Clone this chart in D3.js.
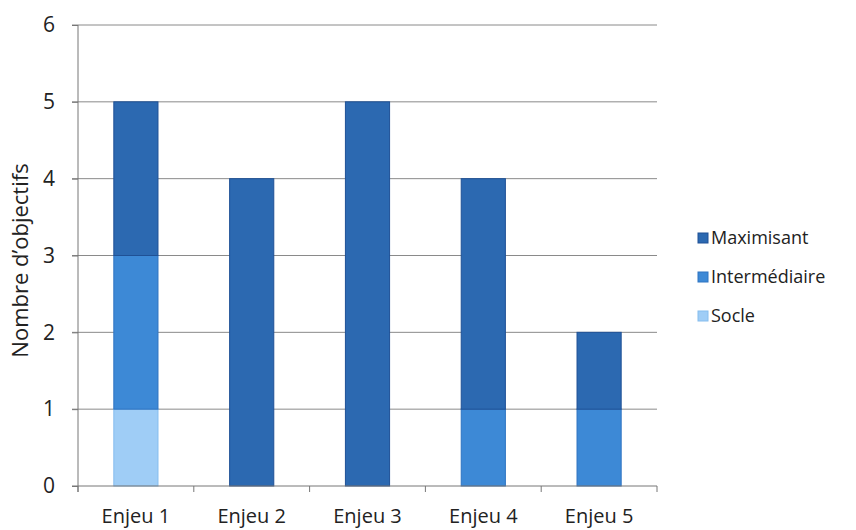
<!DOCTYPE html>
<html>
<head>
<meta charset="utf-8">
<script src="https://cdn.jsdelivr.net/npm/d3@7"></script>
<style>
  body { margin: 0; background: #fff; }
  svg text { font-family: "Open Sans", Lato, sans-serif; fill: #222; }
</style>
</head>
<body>
<div id="chart"></div>
<script>
(function () {
  "use strict";

  /***** Données *****/
  var categories = ["Enjeu 1", "Enjeu 2", "Enjeu 3", "Enjeu 4", "Enjeu 5"];
  var socle = [1, 0, 0, 0, 0];
  var intermediaire = [2, 0, 0, 1, 1];
  var maximisant = [2, 4, 5, 3, 1];
  var yTicks = [0, 1, 2, 3, 4, 5, 6];
  var seriesNames = ["Socle", "Intermédiaire", "Maximisant"];
  var legendOrder = ["Maximisant", "Intermédiaire", "Socle"];

  var colors = {
    "Socle": "#9fcdf6",
    "Intermédiaire": "#3d89d6",
    "Maximisant": "#2c69b1"
  };
  var strokes = {
    "Socle": "#86bdee",
    "Intermédiaire": "#2f74c2",
    "Maximisant": "#1f5196"
  };

  var table = categories.map(function (c, i) {
    return {cat: c, "Socle": socle[i], "Intermédiaire": intermediaire[i], "Maximisant": maximisant[i]};
  });

  /***** Configuration *****/
  var width = 856, height = 530;
  var margin = {top: 25, right: 199, bottom: 44, left: 78};
  var w = width - margin.left - margin.right,
      h = height - margin.top - margin.bottom;

  var svg = d3.select("#chart").append("svg")
    .attr("width", width)
    .attr("height", height);

  var g = svg.append("g")
    .attr("transform", "translate(" + margin.left + "," + margin.top + ")");

  var x = d3.scaleBand()
    .domain(categories)
    .range([0, w])
    .paddingInner(0.61)
    .paddingOuter(0.305);

  var y = d3.scaleLinear().domain([0, 6]).range([h, 0]);

  // grille
  g.selectAll("line.grid")
    .data(yTicks.slice(1))
    .enter().append("line")
    .attr("class", "grid")
    .attr("x1", -6).attr("x2", w)
    .attr("y1", function (d) { return y(d); })
    .attr("y2", function (d) { return y(d); })
    .attr("stroke", "#8a8a8a")
    .attr("stroke-width", 1);

  // barres empilées
  var stack = d3.stack().keys(seriesNames);
  var layers = stack(table);

  g.selectAll("g.layer")
    .data(layers)
    .enter().append("g")
    .attr("class", "layer")
    .each(function (layer) {
      d3.select(this).selectAll("rect")
        .data(layer.filter(function (d) { return d[1] > d[0]; }))
        .enter().append("rect")
        .attr("x", function (d) { return x(d.data.cat) + 0.5; })
        .attr("width", x.bandwidth() - 1)
        .attr("y", function (d) { return y(d[1]); })
        .attr("height", function (d) { return y(d[0]) - y(d[1]); })
        .attr("fill", colors[layer.key])
        .attr("stroke", strokes[layer.key])
        .attr("stroke-width", 1);
    });

  // axe Y
  var yAxis = d3.axisLeft(y).tickValues(yTicks).tickFormat(d3.format("d")).tickSize(6).tickPadding(17);
  var gy = g.append("g").call(yAxis);
  gy.select(".domain").attr("stroke", "#777").attr("d", "M0,0V" + (h + 6));
  gy.selectAll(".tick line").attr("stroke", "#777");
  gy.selectAll(".tick text").attr("font-size", 21).style("fill", "#222");

  // axe X
  var xAxis = d3.axisBottom(x).tickSize(0);
  var gx = g.append("g").attr("transform", "translate(0," + h + ")").call(xAxis);
  gx.select(".domain").attr("stroke", "#777").attr("d", "M-6,0H" + w);
  gx.selectAll(".tick text").attr("font-size", 20).attr("y", 37).attr("dy", 0).style("fill", "#222");

  var step = x.step();
  g.selectAll("line.xtick")
    .data(d3.range(categories.length + 1))
    .enter().append("line")
    .attr("class", "xtick")
    .attr("x1", function (i) { return x(categories[0]) - (step - x.bandwidth()) / 2 + i * step; })
    .attr("x2", function (i) { return x(categories[0]) - (step - x.bandwidth()) / 2 + i * step; })
    .attr("y1", h).attr("y2", h + 6)
    .attr("stroke", "#777");

  // titre axe Y
  svg.append("text")
    .attr("transform", "translate(20," + (margin.top + h / 2 + 5) + ") rotate(-90)")
    .attr("text-anchor", "middle")
    .attr("dy", "0.35em")
    .attr("font-size", 22)
    .text("Nombre d’objectifs");

  // légende
  var legend = svg.append("g").attr("transform", "translate(698,238)");
  var items = legend.selectAll("g")
    .data(legendOrder)
    .enter().append("g")
    .attr("transform", function (d, i) { return "translate(0," + (i * 39) + ")"; });
  items.append("rect")
    .attr("x", 0).attr("y", -5)
    .attr("width", 10).attr("height", 10)
    .attr("fill", function (d) { return colors[d]; })
    .attr("stroke", function (d) { return strokes[d]; });
  items.append("text")
    .attr("x", 13).attr("y", 0).attr("dy", "0.35em")
    .attr("font-size", 18)
    .text(function (d) { return d; });
})();
</script>
</body>
</html>
